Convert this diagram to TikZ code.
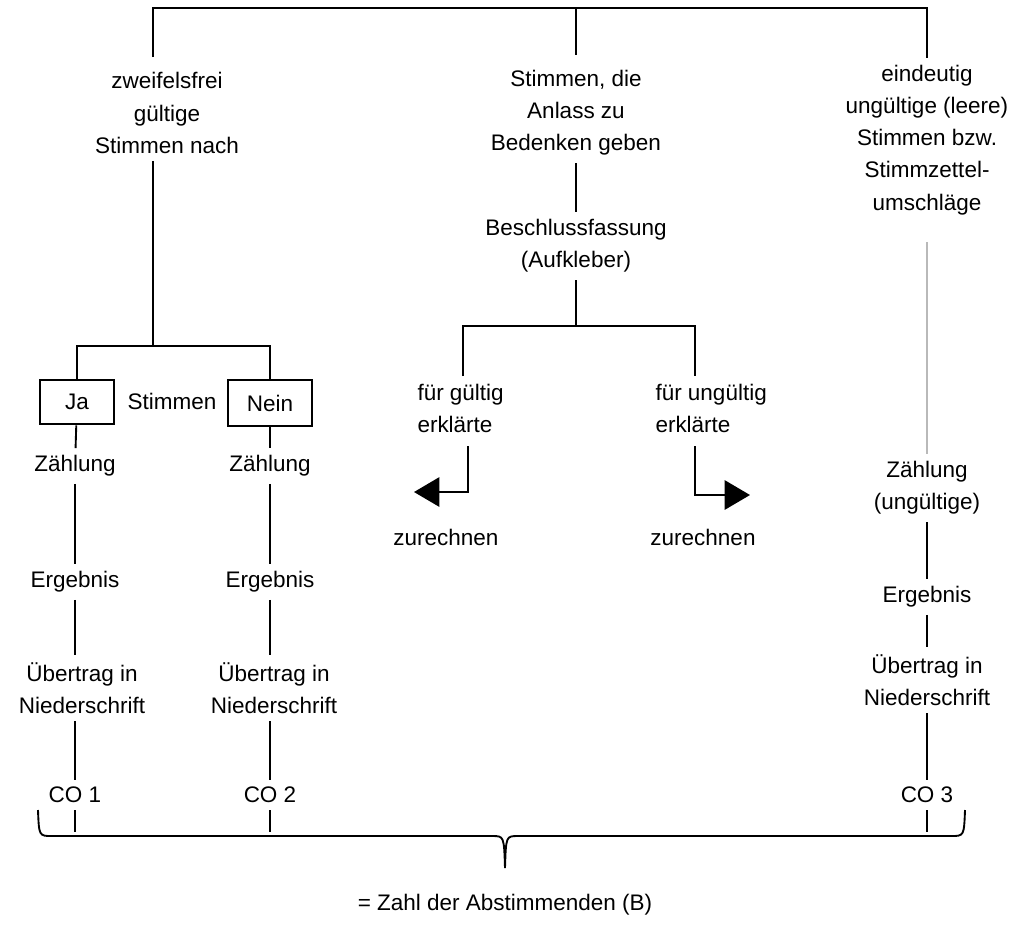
\documentclass[tikz,border=0pt]{standalone}
\usepackage{fontspec}
\setmainfont{Liberation Sans}
\usetikzlibrary{arrows.meta}
\begin{document}
\begin{tikzpicture}
[x=0.015cm,y=-0.015cm,
  textdecorate/.style={align=center,inner sep=3pt,font=\fontsize{9.6}{13.7}\selectfont},
  boxdecorate/.style={draw,thick,minimum height=0.67cm,inner sep=0pt,font=\fontsize{9.6}{13.7}\selectfont},
  linedecorate/.style={-,thick},
  greydecorate/.style={-,thick,gray!55,shorten <=0.3cm},
  arrowdecorate/.style={-{Triangle[length=0.38cm,width=0.44cm]},thick}]
\useasboundingbox (0,0) rectangle (1027,924);
%%% top line and the three kinds of votes
% coordinates
\coordinate (t1) at (153,8);
\coordinate (t2) at (576,8);
\coordinate (t3) at (927,8);
% nodes
\node (gueltig) at (167,113) [textdecorate] {zweifelsfrei\\gültige\\Stimmen nach};
\node (bedenken) at (576,113) [textdecorate] {Stimmen, die\\Anlass zu\\Bedenken geben};
\node (leer) at (927,140) [textdecorate] {eindeutig\\ungültige (leere)\\Stimmen bzw.\\Stimmzettel-\\umschläge};
% edges
\draw[linedecorate] (t1 |- gueltig.north) ++(0,-8) -- (t1) -- (t3) -- (leer.north);
\draw[linedecorate] (t2) -- ([yshift=0.12cm]bedenken.north);
%
%%% Ja / Nein columns
% nodes
\coordinate (split1) at (153,346);
\node (ja) at (77,402) [boxdecorate,minimum width=1.1cm] {Ja};
\node (stimmen) at (172,401) [textdecorate] {Stimmen};
\node (nein) at (270,403) [boxdecorate,minimum width=1.25cm,minimum height=0.69cm] {Nein};
\node (zaehlA) at (75,466) [textdecorate] {Zählung};
\node (ergA) at (75,582) [textdecorate] {Ergebnis};
\node (uebA) at (82,688) [textdecorate] {Übertrag in\\Niederschrift};
\node (coA) at (75,795) [textdecorate] {CO 1};
\coordinate (endA) at (75,832);
\node (zaehlB) at (270,466) [textdecorate] {Zählung};
\node (ergB) at (270,582) [textdecorate] {Ergebnis};
\node (uebB) at (274,688) [textdecorate] {Übertrag in\\Niederschrift};
\node (coB) at (270,795) [textdecorate] {CO 2};
\coordinate (endB) at (270,832);
% edges
\draw[linedecorate] (gueltig.south -| split1) -- (split1);
\draw[linedecorate] (ja.north) |- (split1) -| (nein.north);
\path
(ja) edge[linedecorate] (zaehlA)
(zaehlA) edge[linedecorate] (ergA)
(ergA) edge[linedecorate] (uebA.north -| ergA)
(uebA.south -| coA) edge[linedecorate] (coA)
(coA) edge[linedecorate] (endA)
(nein) edge[linedecorate] (zaehlB)
(zaehlB) edge[linedecorate] (ergB)
(ergB) edge[linedecorate] (uebB.north -| ergB)
(uebB.south -| coB) edge[linedecorate] (coB)
(coB) edge[linedecorate] (endB);
%
%%% votes giving cause for concern
% nodes
\node (beschluss) at (576,246) [textdecorate] {Beschlussfassung\\(Aufkleber)};
\coordinate (split2) at (576,326);
\coordinate (bG) at (463,376);
\coordinate (bU) at (695,376);
\node (fuerG) at (410,408) [textdecorate,align=left,anchor=west] {für gültig\\erklärte};
\node (fuerU) at (648,408) [textdecorate,align=left,anchor=west] {für ungültig\\erklärte};
\coordinate (kG) at (468,492);
\coordinate (tipG) at (414,492);
\coordinate (kU) at (695,495);
\coordinate (tipU) at (750,495);
\node (zuG) at (446,537) [textdecorate] {zurechnen};
\node (zuU) at (703,537) [textdecorate] {zurechnen};
% edges
\draw[linedecorate] (bedenken) -- (beschluss);
\draw[linedecorate] (beschluss) -- (split2);
\draw[linedecorate] (bG) |- (split2) -| (bU);
\draw[arrowdecorate] ([yshift=-0.1cm]fuerG.south -| kG) -- (kG) -- (tipG);
\draw[arrowdecorate] ([yshift=-0.1cm]fuerU.south -| kU) -- (kU) -- (tipU);
%
%%% invalid votes
% nodes
\node (zaehlC) at (927,488) [textdecorate] {Zählung\\(ungültige)};
\node (ergC) at (927,597) [textdecorate] {Ergebnis};
\node (uebC) at (927,680) [textdecorate] {Übertrag in\\Niederschrift};
\node (coC) at (927,795) [textdecorate] {CO 3};
\coordinate (endC) at (927,832);
% edges
\path
(leer) edge[greydecorate] (zaehlC)
(zaehlC) edge[linedecorate] (ergC)
(ergC) edge[linedecorate] (uebC)
(uebC) edge[linedecorate] (coC)
(coC) edge[linedecorate] (endC);
%
%%% brace and sum
\node (summe) at (505,905) [textdecorate] {= Zahl der Abstimmenden (B)};
\draw[linedecorate] (38,810) .. controls (39,836) .. (52,836) -- (492,836)
  .. controls (504,836) .. (505,868) .. controls (506,836) .. (518,836)
  -- (951,836) .. controls (964,836) .. (965,810);
\end{tikzpicture}
\end{document}
